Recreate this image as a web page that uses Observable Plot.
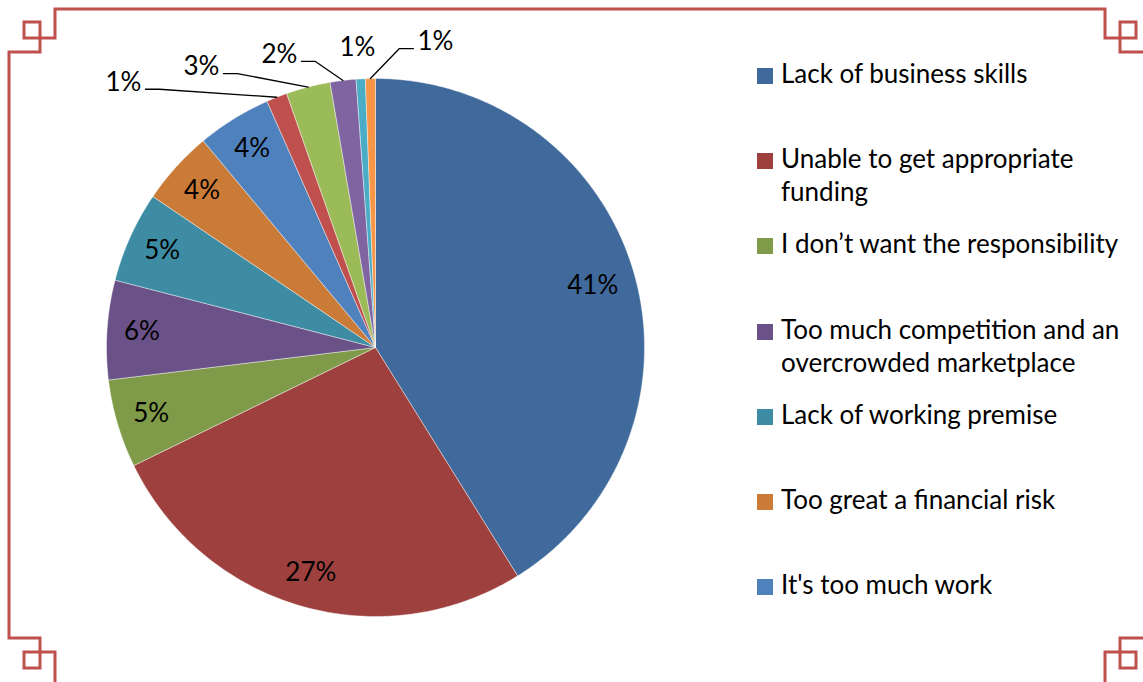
<!DOCTYPE html>
<html>
<head>
<meta charset="utf-8">
<script src="https://cdn.jsdelivr.net/npm/d3@7"></script>
<script src="https://cdn.jsdelivr.net/npm/@observablehq/plot@0.6"></script>
<style>
  html, body { margin: 0; padding: 0; background: #fff; }
  #wrap { position: relative; width: 1143px; height: 682px; overflow: hidden; font-family: Lato, "Open Sans", sans-serif; }
  #frame { position: absolute; left: 0; top: 0; pointer-events: none; }
  #legend { position: absolute; left: 757px; top: 57px; }
  .item { position: absolute; left: 0; display: flex; align-items: flex-start; }
  .sw { width: 16px; height: 16px; margin-top: 11px; flex: none; }
  .lab { margin-left: 8px; font-size: 26px; line-height: 33px; width: 352px; color: #000; }
</style>
</head>
<body>
<div id="wrap">
  <div id="chart"></div>
  <svg id="frame" width="1143" height="682">
    <g fill="none" stroke="#C0504D" stroke-width="3">
      <path d="M9,638 L9,52 L40,52 L40,38 L55,38 L55,9 L1105,9 L1105,38 L1120,38 L1120,52 L1151,52 L1151,638 L1120,638 L1120,652 L1105,652 L1105,686 L55,686 L55,652 L40,652 L40,638 Z"/>
      <rect x="24" y="22" width="16" height="16"/>
      <rect x="1120" y="22" width="16" height="16"/>
      <rect x="24" y="652" width="16" height="16"/>
      <rect x="1120" y="652" width="16" height="16"/>
    </g>
  </svg>
  <div id="legend"></div>
</div>
<script>
// ---- data ----
const categories = [
  "Lack of business skills",
  "Unable to get appropriate funding",
  "I don’t want the responsibility",
  "Too much competition and an overcrowded marketplace",
  "Lack of working premise",
  "Too great a financial risk",
  "It's too much work",
  "Reason 8",
  "Reason 9",
  "Reason 10",
  "Reason 11",
  "Reason 12"
];
const values = [41.1, 26.6, 5.3, 5.95, 5.45, 4.45, 4.45, 1.25, 2.65, 1.55, 0.55, 0.6];
const colors = ["#416A9C", "#9E413E", "#7F9A48", "#6A5187", "#3D8CA3", "#CB7B38",
                "#4F81BD", "#C0504D", "#9BBB59", "#8064A2", "#4BACC6", "#F79646"];
const legendShown = 7; // the reference legend is cut off after seven entries

// ---- geometry (unit circle; scales map it to pixels) ----
const R = 269; // pixel radius, used only to convert pixel offsets to data units
const arcs = d3.pie().sort(null).value(d => d)(values);
const slices = [];
arcs.forEach((a, i) => {
  const n = Math.max(2, Math.ceil((a.endAngle - a.startAngle) / (Math.PI / 360)));
  slices.push({key: categories[i], x: 0, y: 0});
  for (let j = 0; j <= n; j++) {
    const t = a.startAngle + (a.endAngle - a.startAngle) * j / n;
    slices.push({key: categories[i], x: Math.sin(t), y: Math.cos(t)});
  }
  slices.push({key: categories[i], x: 0, y: 0});
});

const labels = [];
const leaders = [];
const outer = [];
arcs.forEach((a, i) => {
  const mid = (a.startAngle + a.endAngle) / 2;
  const text = Math.round(values[i]) + "%";
  if (values[i] >= 3.5) {
    const r = values[i] > 30 ? 0.84 : 0.87;
    labels.push({x: r * Math.sin(mid), y: r * Math.cos(mid), text});
  } else {
    outer.push({i, mid, text, ax: Math.sin(mid), ay: Math.cos(mid)});
  }
});
// outside labels: spread leftwards from the slice nearest 12 o'clock
outer.sort((p, q) => q.mid - p.mid);
const px = 1 / R;
const firstAx = outer.length ? outer[0].ax : 0;
outer.forEach((o, k) => {
  const lx = firstAx + (65 - 78 * k) * px;
  const ly = o.ay + (37 - 5.5 * k) * px;
  labels.push({x: lx, y: ly, text: o.text});
  const dxp = (lx - o.ax) / px;
  if (Math.abs(dxp) > 20) {
    const side = dxp < 0 ? 1 : -1;
    const sx = lx + side * 22 * px;
    const hy = ly - 7 * px;
    leaders.push({id: o.i, x: sx, y: hy});
    leaders.push({id: o.i, x: sx + side * 14 * px, y: hy});
    leaders.push({id: o.i, x: o.ax, y: o.ay});
  }
});

const chart = Plot.plot({
  width: 1143,
  height: 682,
  margin: 0,
  style: {fontFamily: "Lato, 'Open Sans', sans-serif", fontSize: "26px", background: "transparent", overflow: "visible"},
  x: {domain: [-1, 1], range: [375 - R, 375 + R], axis: null},
  y: {domain: [-1, 1], range: [347 + R, 347 - R], axis: null},
  color: {type: "ordinal", domain: categories, range: colors},
  marks: [
    Plot.line(slices, {x: "x", y: "y", z: "key", fill: "key", stroke: "#ffffff", strokeWidth: 0.7, strokeOpacity: 0.6, curve: "linear"}),
    Plot.line(leaders, {x: "x", y: "y", z: "id", stroke: "#000", strokeWidth: 1.3, curve: "linear"}),
    Plot.text(labels, {x: "x", y: "y", text: "text", fontSize: 26, fill: "#000"})
  ]
});
document.getElementById("chart").appendChild(chart);

// ---- legend ----
const legend = document.getElementById("legend");
categories.slice(0, legendShown).forEach((c, i) => {
  const item = document.createElement("div");
  item.className = "item";
  item.style.top = (i * 85.2) + "px";
  const sw = document.createElement("div");
  sw.className = "sw";
  sw.style.background = colors[i];
  const lab = document.createElement("div");
  lab.className = "lab";
  lab.textContent = c;
  item.appendChild(sw);
  item.appendChild(lab);
  legend.appendChild(item);
});
</script>
</body>
</html>
